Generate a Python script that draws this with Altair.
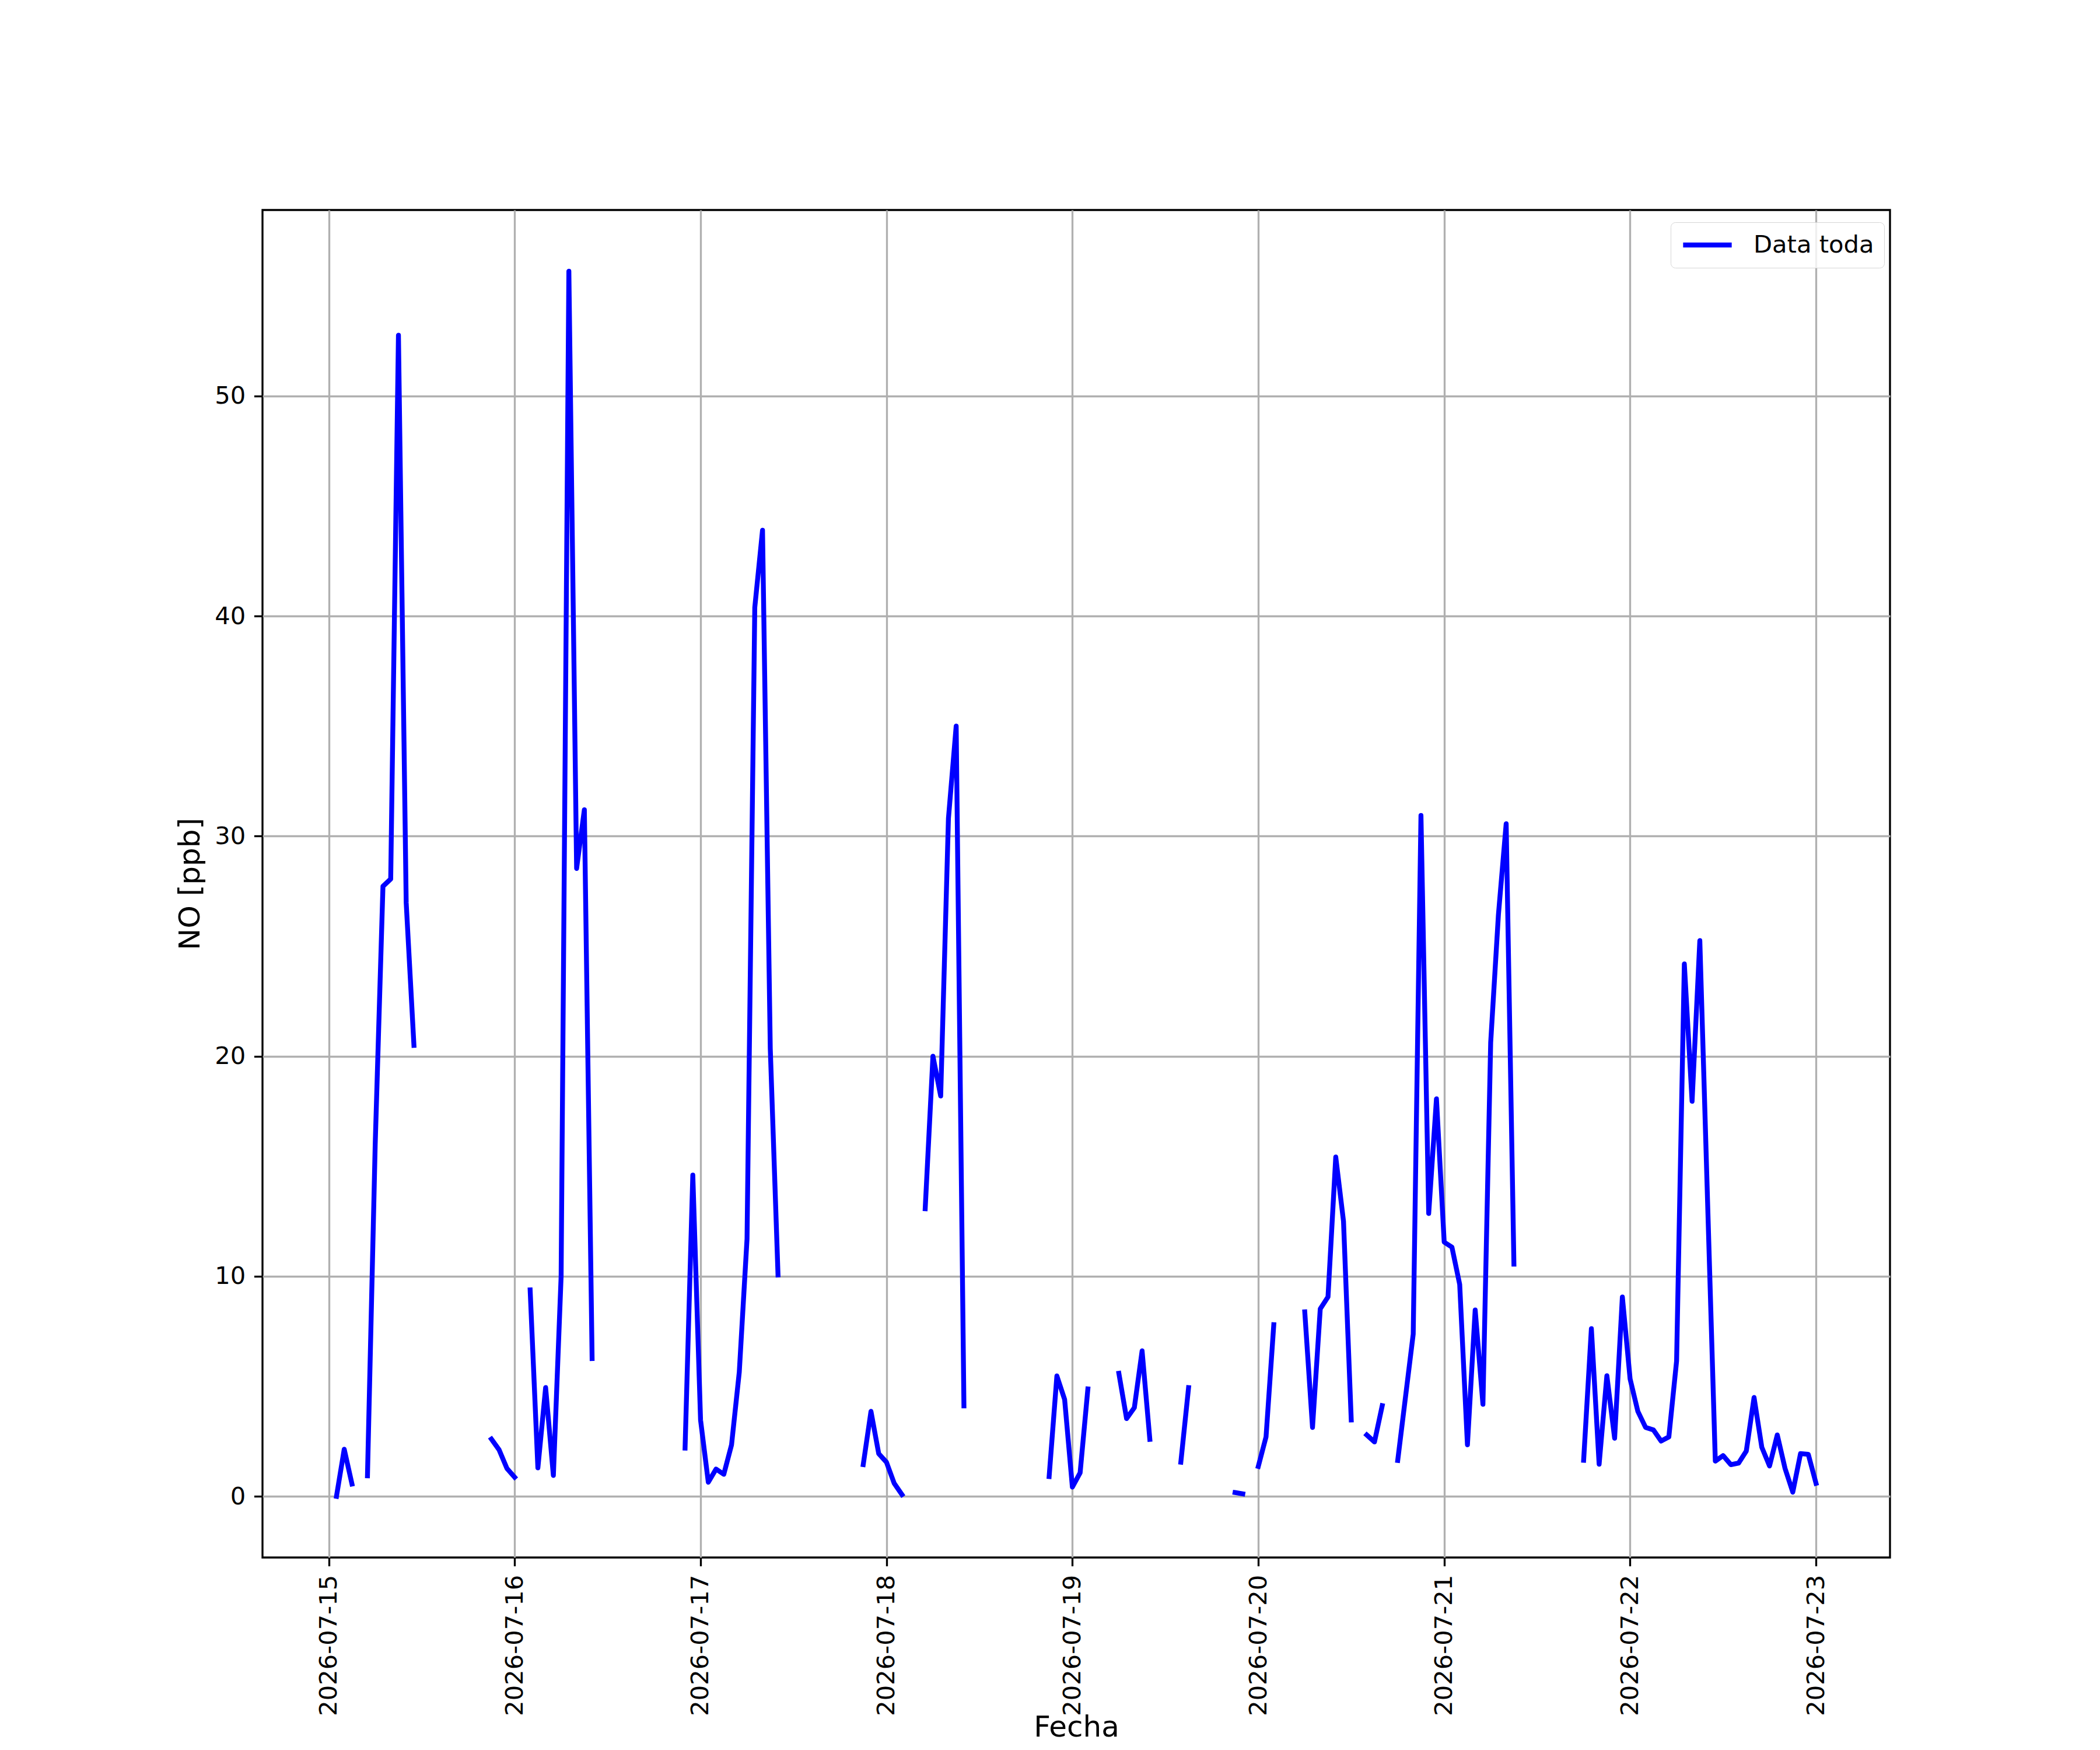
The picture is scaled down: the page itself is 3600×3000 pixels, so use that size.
import altair as alt
import pandas as pd

N = None
# NO [ppb], hourly values (h0..h23) per day of July 2026; None = no data
no_15 = [N, 0.0, 2.14, 0.56, N, 0.93, 16.0, 27.72, 28.05, 52.76, 26.97, 20.49,
         N, N, N, N, N, N, N, N, N, 2.6, 2.11, 1.27]
no_16 = [0.87, N, 9.38, 1.29, 4.94, 0.95, 10.0, 55.67, 28.53, 31.2, 6.26,
         N, N, N, N, N, N, N, N, N, N, N, 2.19, 14.6]
no_17 = [3.47, 0.64, 1.24, 1.0, 2.34, 5.65, 11.7, 40.39, 43.9, 20.35, 10.06,
         N, N, N, N, N, N, N, N, N, N, 1.44, 3.86, 1.94]
no_18 = [1.55, 0.59, 0.08, N, N, 13.07, 20.0, 18.19, 30.8, 35.0, 4.11,
         N, N, N, N, N, N, N, N, N, N, 0.9, 5.47, 4.4]
no_19 = [0.42, 1.07, 4.88, N, N, N, 5.59, 3.53, 4.03, 6.61, 2.59,
         N, N, N, 1.55, 4.94, N, N, N, N, N, 0.17, 0.11, N]
no_20 = [1.36, 2.7, 7.8, N, N, N, 8.38, 3.13, 8.52, 9.06, 15.42, 12.5, 3.47,
         N, 2.79, 2.47, 4.12, N, 1.63, 4.5, 7.37, 30.94, 12.85, 18.06]
no_21 = [11.55, 11.32, 9.63, 2.34, 8.47, 4.18, 20.62, 26.43, 30.56, 10.55,
         N, N, N, N, N, N, N, N, 1.64, 7.62, 1.46, 5.48, 2.64, 9.06]
no_22 = [5.33, 3.86, 3.13, 3.02, 2.51, 2.7, 6.15, 24.19, 17.95, 25.25, 13.4, 1.6,
         1.85, 1.44, 1.51, 2.06, 4.49, 2.23, 1.38, 2.79, 1.27, 0.19, 1.94, 1.91]
no_23 = [0.59]

days = [15, 16, 17, 18, 19, 20, 21, 22, 23]
series = [no_15, no_16, no_17, no_18, no_19, no_20, no_21, no_22, no_23]
tick_days = [15, 16, 17, 18, 19, 20, 21, 22, 23]
y_ticks = [0, 10, 20, 30, 40, 50]
label = "Data toda"

rows = []
seg = 0
gap = True
for d, vals in zip(days, series):
    for h, v in enumerate(vals):
        if v is None:
            gap = True
            continue
        if gap:
            seg += 1
            gap = False
        rows.append({"fecha": f"2026-07-{d:02d}T{h:02d}:00:00Z", "no": v,
                     "seg": seg, "serie": label})
df = pd.DataFrame(rows)

FONT = "DejaVu Sans"
PX = 300 / 72.0  # points to pixels at 300 dpi

x_lo = alt.DateTime(year=2026, month=7, date=14, hours=15, minutes=27, utc=True)
x_hi = alt.DateTime(year=2026, month=7, date=23, hours=9, minutes=33, utc=True)

line = alt.Chart(df).mark_line(
    strokeWidth=2 * PX, strokeCap="square", strokeJoin="round"
).encode(
    x=alt.X("fecha:T",
            scale=alt.Scale(type="utc", domain=[x_lo, x_hi]),
            axis=alt.Axis(values=[alt.DateTime(year=2026, month=7, date=d, utc=True) for d in tick_days],
                          format="%Y-%m-%d", labelAngle=-90, title="Fecha",
                          titleY=316, titleBaseline="bottom")),
    y=alt.Y("no:Q",
            scale=alt.Scale(domain=[-2.78, 58.45], nice=False, zero=False),
            axis=alt.Axis(values=y_ticks, title="NO [ppb]")),
    color=alt.Color("serie:N",
                    scale=alt.Scale(domain=[label], range=["#0000ff"]),
                    legend=alt.Legend(title=None, orient="none", legendX=2414, legendY=21,
                                      padding=17, fillColor="rgba(255,255,255,0.8)",
                                      strokeColor="#d6d6d6", cornerRadius=8,
                                      symbolType="stroke", symbolSize=83.3 ** 2,
                                      symbolStrokeWidth=2 * PX, labelOffset=33,
                                      clipHeight=44, labelLimit=1000,
                                      labelFont=FONT, labelFontSize=10 * PX,
                                      labelColor="black")),
    detail="seg:N",
).properties(
    width=2790, height=2310,
    autosize=alt.AutoSizeParams(type="none"),
    padding={"left": 442, "top": 352, "right": 352, "bottom": 322},
).configure(background="white").configure_view(
    stroke="black", strokeWidth=0.8 * PX
).configure_axis(
    domain=False, grid=True, gridColor="#b0b0b0", gridWidth=0.8 * PX,
    tickColor="black", tickWidth=0.8 * PX, tickSize=3.5 * PX, labelPadding=3.5 * PX,
    labelFont=FONT, labelFontSize=10 * PX, labelColor="black", labelLimit=1000,
    titleFont=FONT, titleFontSize=12 * PX, titleFontWeight="normal", titleColor="black",
    titlePadding=4 * PX,
)

line.save("out.html", embed_options={"renderer": "svg", "actions": False})
